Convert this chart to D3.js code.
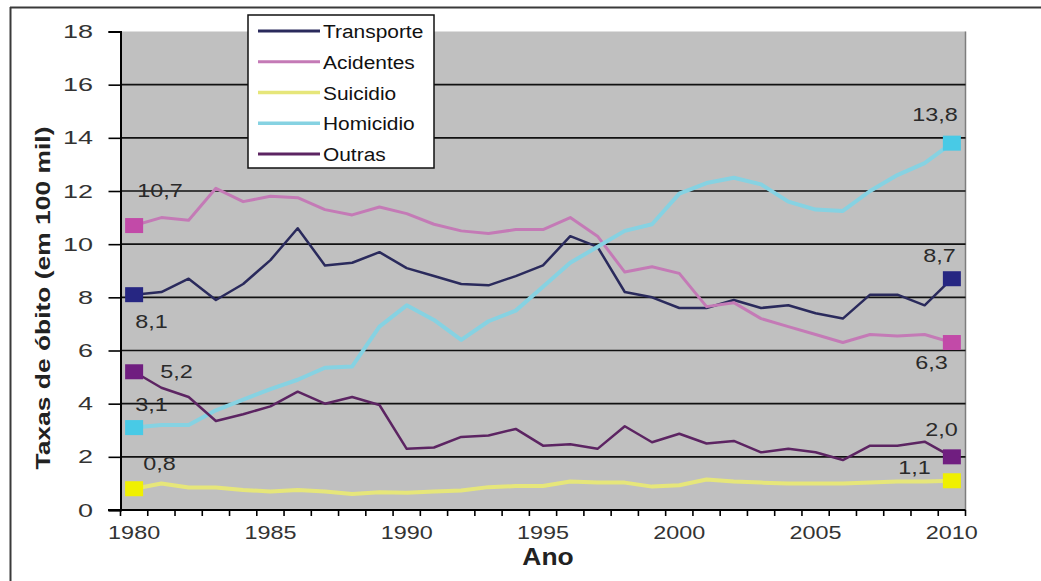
<!DOCTYPE html>
<html>
<head>
<meta charset="utf-8">
<script src="https://cdn.jsdelivr.net/npm/d3@7"></script>
<style>
  html, body { margin: 0; padding: 0; background: #fff; }
  svg { display: block; font-family: "Liberation Sans", Arial, sans-serif; }
</style>
</head>
<body>
<svg id="chart" width="1041" height="581"></svg>
<script>
// ---- data ----
const years = [1980,1981,1982,1983,1984,1985,1986,1987,1988,1989,1990,1991,1992,1993,1994,1995,1996,1997,1998,1999,2000,2001,2002,2003,2004,2005,2006,2007,2008,2009,2010];
const xTickLabels = [1980, 1985, 1990, 1995, 2000, 2005, 2010];
const yTickValues = [0, 2, 4, 6, 8, 10, 12, 14, 16, 18];
const seriesNames = ["Transporte", "Acidentes", "Suicidio", "Homicidio", "Outras"];
const transporte = [8.1, 8.2, 8.7, 7.9, 8.5, 9.4, 10.6, 9.2, 9.3, 9.7, 9.1, 8.8, 8.5, 8.45, 8.8, 9.2, 10.3, 9.9, 8.2, 8.0, 7.6, 7.6, 7.9, 7.6, 7.7, 7.4, 7.2, 8.1, 8.1, 7.7, 8.7];
const acidentes  = [10.7, 11.0, 10.9, 12.1, 11.6, 11.8, 11.75, 11.3, 11.1, 11.4, 11.15, 10.75, 10.5, 10.4, 10.55, 10.55, 11.0, 10.3, 8.95, 9.15, 8.9, 7.65, 7.8, 7.2, 6.9, 6.6, 6.3, 6.6, 6.55, 6.6, 6.3];
const suicidio   = [0.8, 1.0, 0.85, 0.85, 0.75, 0.7, 0.75, 0.7, 0.6, 0.67, 0.65, 0.7, 0.73, 0.86, 0.9, 0.9, 1.07, 1.03, 1.03, 0.88, 0.93, 1.15, 1.07, 1.03, 1.0, 1.0, 1.0, 1.03, 1.07, 1.07, 1.1];
const homicidio  = [3.1, 3.2, 3.2, 3.75, 4.15, 4.55, 4.9, 5.35, 5.4, 6.9, 7.7, 7.15, 6.4, 7.1, 7.5, 8.4, 9.3, 9.9, 10.5, 10.75, 11.9, 12.3, 12.5, 12.25, 11.6, 11.3, 11.25, 12.0, 12.6, 13.05, 13.8];
const outras     = [5.2, 4.6, 4.25, 3.35, 3.6, 3.9, 4.45, 4.0, 4.25, 3.95, 2.3, 2.35, 2.75, 2.8, 3.05, 2.42, 2.47, 2.3, 3.15, 2.55, 2.87, 2.5, 2.6, 2.17, 2.3, 2.17, 1.88, 2.42, 2.42, 2.57, 2.0];
const seriesValues = [transporte, acidentes, suicidio, homicidio, outras];

// ---- styles ----
const lineColors   = ["#2a2a5c", "#c47ab6", "#e6e67a", "#86d2e2", "#5c2462"];
const markerColors = ["#262682", "#c24aa8", "#f0f000", "#48cae6", "#701e80"];
const lineWidths   = [2.5, 3, 4, 4, 2.5];
// label offsets [dx, dy, anchor] for start (1980) and end (2010) labels
const startLabelPos = [[1, 33, "start"], [3, -29, "start"], [9, -19, "start"], [1, -17, "start"], [26, 6, "start"]];
const endLabelPos   = [[4, -17, "end"], [-4, 26, "end"], [-21, -7, "end"], [6, -22, "end"], [6, -21, "end"]];

const svg = d3.select("#chart");
const L = 120.5, R = 965.5, T = 31.5, B = 510;

const x = d3.scaleBand().domain(years).range([L, R]).padding(0);
const cx = d => x(d) + x.bandwidth() / 2;
const y = d3.scaleLinear().domain([0, 18]).range([B, T]);

// outer frame
svg.append("line").attr("x1", 10).attr("x2", 1041).attr("y1", 7.5).attr("y2", 7.5).attr("stroke", "#3a3a3a").attr("stroke-width", 2);
svg.append("line").attr("x1", 10.5).attr("x2", 10.5).attr("y1", 7).attr("y2", 581).attr("stroke", "#3a3a3a").attr("stroke-width", 2);

// plot background
svg.append("rect").attr("x", L).attr("y", T).attr("width", R - L).attr("height", B - T).attr("fill", "#c0c0c0");
svg.append("line").attr("x1", R).attr("x2", R).attr("y1", T).attr("y2", B).attr("stroke", "#7d7d7d").attr("stroke-width", 1.5);

// gridlines
svg.append("g").selectAll("line").data(yTickValues.filter(v => v > 0 && v < 18)).join("line")
  .attr("x1", L).attr("x2", R).attr("y1", d => y(d)).attr("y2", d => y(d))
  .attr("stroke", "#111").attr("stroke-width", 1.6);

// y axis
const yAxis = svg.append("g").attr("transform", `translate(${L},0)`)
  .call(d3.axisLeft(y).tickValues(yTickValues).tickSize(12).tickFormat(""));
yAxis.select(".domain").attr("stroke", "#000").attr("stroke-width", 2);
yAxis.selectAll(".tick line").attr("stroke", "#000").attr("stroke-width", 1.6);
svg.append("g").selectAll("text").data(yTickValues).join("text")
  .attr("transform", d => `translate(93,${y(d) + 6.5}) scale(1.5,1)`)
  .attr("text-anchor", "end").attr("font-size", 18).attr("fill", "#333")
  .text(d => d);

// x axis
svg.append("line").attr("x1", 108).attr("x2", R).attr("y1", B).attr("y2", B).attr("stroke", "#000").attr("stroke-width", 2);
const bounds = years.map(d => x(d)).concat([R]);
svg.append("g").selectAll("line").data(bounds).join("line")
  .attr("x1", d => d).attr("x2", d => d).attr("y1", B).attr("y2", B + 6)
  .attr("stroke", "#000").attr("stroke-width", 1.6);
svg.append("g").selectAll("text").data(xTickLabels).join("text")
  .attr("transform", d => `translate(${cx(d)},${B + 29}) scale(1.3,1)`)
  .attr("text-anchor", "middle").attr("font-size", 18).attr("fill", "#333")
  .text(d => d);

// axis titles
svg.append("text").attr("transform", `translate(548,565) scale(1.1,1)`)
  .attr("text-anchor", "middle").attr("font-size", 24).attr("font-weight", "bold").attr("fill", "#222")
  .text("Ano");
svg.append("text").attr("transform", `translate(50,298) rotate(-90)`)
  .attr("text-anchor", "middle").attr("font-size", 21).attr("font-weight", "bold").attr("fill", "#222")
  .attr("textLength", 343).attr("lengthAdjust", "spacingAndGlyphs")
  .text("Taxas de óbito (em 100 mil)");

// lines
const line = d3.line().x((d, i) => cx(years[i])).y(d => y(d)).curve(d3.curveLinear);
const gLines = svg.append("g");
seriesValues.forEach((vals, s) => {
  gLines.append("path").datum(vals).attr("d", line)
    .attr("fill", "none").attr("stroke", lineColors[s]).attr("stroke-width", lineWidths[s])
    .attr("stroke-linejoin", "round");
});

// markers + labels
const fmt = v => d3.format(".1f")(v).replace(".", ",");
const gMarks = svg.append("g");
seriesValues.forEach((vals, s) => {
  const first = vals[0], last = vals[vals.length - 1];
  [[years[0], first, startLabelPos[s]], [years[years.length - 1], last, endLabelPos[s]]].forEach(([yr, v, pos]) => {
    gMarks.append("rect").attr("x", cx(yr) - 9).attr("y", y(v) - 7.5).attr("width", 18).attr("height", 15)
      .attr("fill", markerColors[s]);
    gMarks.append("text")
      .attr("transform", `translate(${cx(yr) + pos[0]},${y(v) + pos[1]}) scale(1.3,1)`)
      .attr("text-anchor", pos[2]).attr("font-size", 18).attr("fill", "#2a2a2a")
      .text(fmt(v));
  });
});

// legend
const lg = svg.append("g");
lg.append("rect").attr("x", 248).attr("y", 15).attr("width", 186).attr("height", 153)
  .attr("fill", "#fff").attr("stroke", "#111").attr("stroke-width", 1.5);
const legendY = d3.scalePoint().domain(seriesNames).range([31, 154]);
seriesNames.forEach((name, s) => {
  lg.append("line").attr("x1", 258).attr("x2", 320).attr("y1", legendY(name)).attr("y2", legendY(name))
    .attr("stroke", lineColors[s]).attr("stroke-width", s === 2 || s === 3 ? 3.5 : 3);
  lg.append("text").attr("transform", `translate(323,${legendY(name) + 7}) scale(1.1,1)`)
    .attr("font-size", 19).attr("fill", "#111").text(name);
});
</script>
</body>
</html>
